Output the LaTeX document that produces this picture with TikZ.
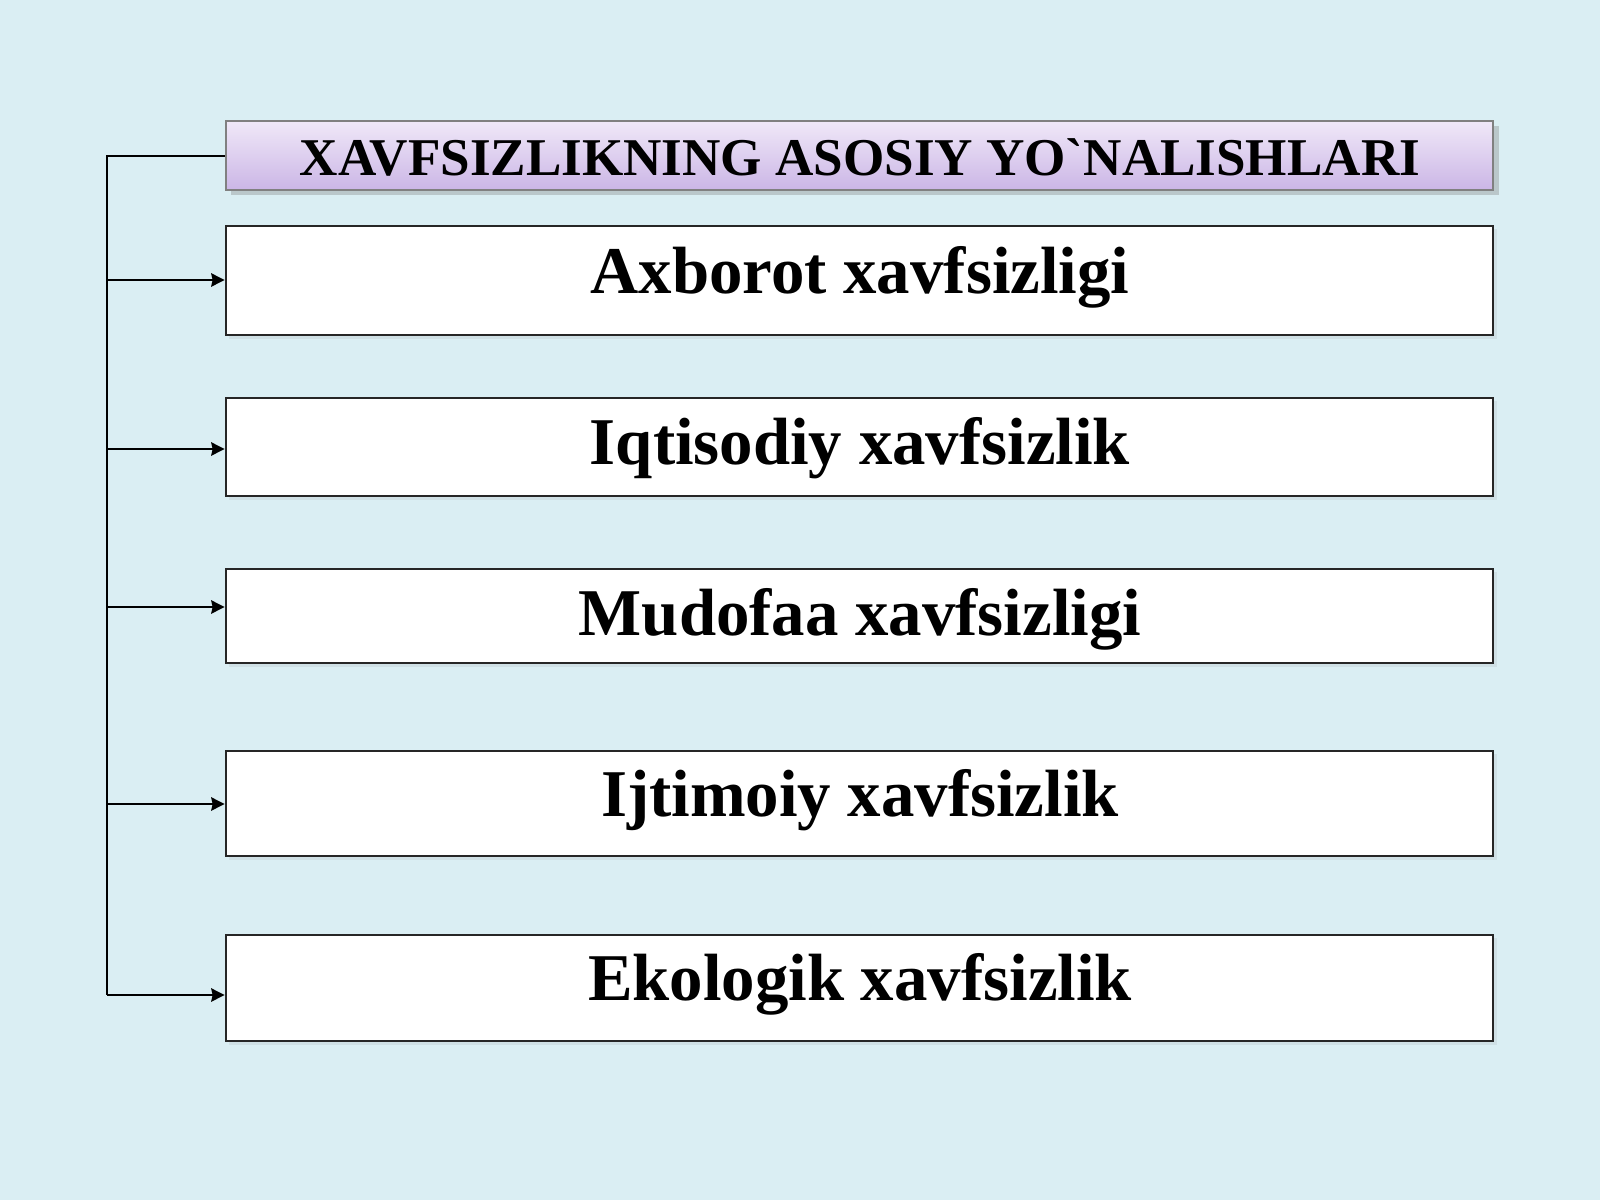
\documentclass[tikz,border=0pt]{standalone}
\usepackage{fontspec}
\setmainfont{Liberation Serif}
\usetikzlibrary{arrows.meta,shadows}
\definecolor{bg}{HTML}{DAEEF3}
\definecolor{hdtop}{HTML}{F0E8F8}
\definecolor{hdbot}{HTML}{CBB6E6}
\tikzset{
  px/.style={x=0.01cm,y=-0.01cm},
  itembox/.style={draw=black!85,line width=0.6pt,fill=white,inner sep=0pt,
    drop shadow={shadow xshift=1pt,shadow yshift=-1pt,opacity=0.12}},
  headbox/.style={draw=black!50,line width=0.6pt,top color=hdtop,bottom color=hdbot,inner sep=0pt,
    drop shadow={shadow xshift=1.5pt,shadow yshift=-1.5pt,opacity=0.35}},
  itemtext/.style={anchor=base,font=\bfseries\fontsize{19pt}{22pt}\selectfont,inner sep=0pt},
  headtext/.style={anchor=base,font=\bfseries\fontsize{15.1pt}{18pt}\selectfont,inner sep=0pt},
  conn/.style={line width=0.6pt,draw=black},
  arr/.style={conn,-{Stealth[length=3.8pt,width=3.8pt,inset=0.4pt]}}
}
\begin{document}
\begin{tikzpicture}[px]
\fill[bg] (0,0) rectangle (1600,1200);
\useasboundingbox (0,0) rectangle (1600,1200);
\node[headbox,minimum width=12.67cm,minimum height=0.69cm] (h) at (859.5,155.5) {};
\node[itembox,minimum width=12.67cm,minimum height=1.09cm] (b1) at (859.5,280.5) {};
\node[itembox,minimum width=12.67cm,minimum height=0.98cm] (b2) at (859.5,447) {};
\node[itembox,minimum width=12.67cm,minimum height=0.94cm] (b3) at (859.5,616) {};
\node[itembox,minimum width=12.67cm,minimum height=1.05cm] (b4) at (859.5,803.5) {};
\node[itembox,minimum width=12.67cm,minimum height=1.06cm] (b5) at (859.5,988) {};
\node[headtext] (th) at (860,175) {XAVFSIZLIKNING ASOSIY YO\textasciigrave NALISHLARI};
\node[itemtext] (t1) at (860,293) {Axborot xavfsizligi};
\node[itemtext] (t2) at (860,464) {Iqtisodiy xavfsizlik};
\node[itemtext] (t3) at (860,635) {Mudofaa xavfsizligi};
\node[itemtext] (t4) at (860,816) {Ijtimoiy xavfsizlik};
\node[itemtext] (t5) at (860,1000) {Ekologik xavfsizlik};
\coordinate (top) at (107,156);
\coordinate (bot) at (107,995);
\draw[conn] (h.west |- top) -- (top) -- (bot);
\draw[arr] (107,280) -- (b1.west |- 0,280);
\draw[arr] (107,449) -- (b2.west |- 0,449);
\draw[arr] (107,607) -- (b3.west |- 0,607);
\draw[arr] (107,804) -- (b4.west |- 0,804);
\draw[arr] (bot) -- (b5.west |- bot);
\end{tikzpicture}
\end{document}
